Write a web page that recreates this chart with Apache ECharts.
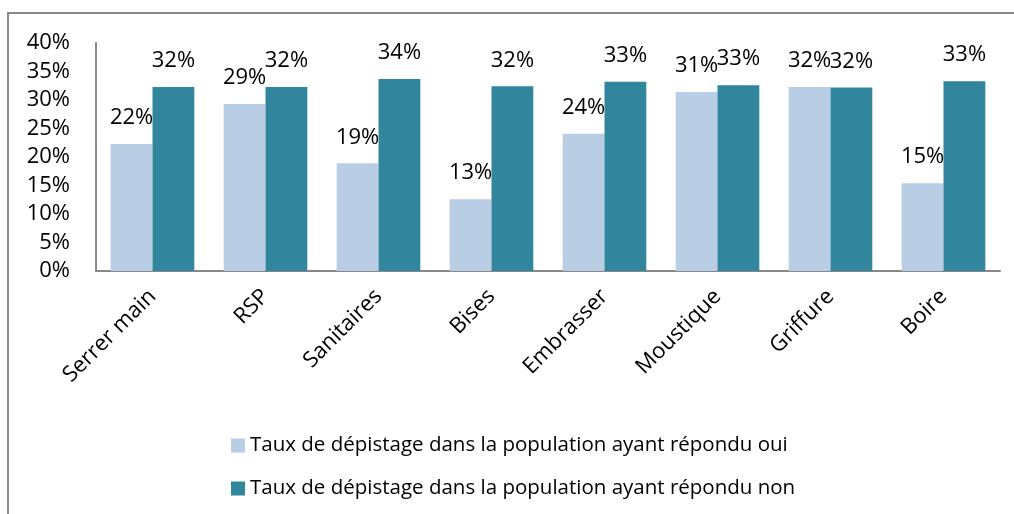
<!DOCTYPE html>
<html>
<head>
<meta charset="utf-8">
<script src="https://cdn.jsdelivr.net/npm/echarts@6/dist/echarts.min.js"></script>
<style>
  html, body { margin: 0; padding: 0; background: #fff; }
  #container { width: 1014px; height: 514px; }
</style>
</head>
<body>
<div id="container"></div>
<script>
    var categories = ["Serrer main", "RSP", "Sanitaires", "Bises", "Embrasser", "Moustique", "Griffure", "Boire"];
    var seriesNames = [
        "Taux de dépistage dans la population ayant répondu oui",
        "Taux de dépistage dans la population ayant répondu non"
    ];
    var ouiValues = [22.3, 29.3, 18.9, 12.6, 24.1, 31.4, 32.3, 15.4];
    var nonValues = [32.3, 32.3, 33.7, 32.4, 33.2, 32.6, 32.2, 33.3];

    var fontFamily = "'Open Sans', sans-serif";
    var labelStyle = {
        show: true,
        position: 'top',
        distance: 15,
        color: '#000',
        fontSize: 22,
        fontFamily: fontFamily,
        formatter: function(p) { return Math.round(p.value) + '%'; }
    };

    var myChart = echarts.init(document.getElementById('container'));
    myChart.setOption({
        animation: false,
        graphic: [{
            type: 'rect',
            shape: { x: 8, y: 13, width: 1100, height: 600 },
            style: { fill: 'none', stroke: '#888', lineWidth: 2 },
            silent: true
        }],
        grid: { left: 96, right: 14, top: 43, bottom: 243 },
        legend: {
            orient: 'vertical',
            left: 226,
            top: 430,
            icon: 'rect',
            itemWidth: 14,
            itemHeight: 14,
            itemGap: 22,
            textStyle: { fontSize: 20.5, fontFamily: fontFamily, color: '#000' },
            data: seriesNames
        },
        xAxis: {
            type: 'category',
            data: categories,
            axisTick: { show: false },
            axisLine: { lineStyle: { color: '#888', width: 2 } },
            axisLabel: {
                rotate: 45,
                interval: 0,
                margin: 22,
                color: '#000',
                fontSize: 22,
                fontFamily: fontFamily
            }
        },
        yAxis: {
            type: 'value',
            min: 0,
            max: 40,
            interval: 5,
            splitLine: { show: false },
            axisTick: { show: false },
            axisLine: { show: true, lineStyle: { color: '#888', width: 2 } },
            axisLabel: {
                formatter: '{value}%',
                margin: 26,
                color: '#000',
                fontSize: 22,
                fontFamily: fontFamily
            }
        },
        series: [
            {
                name: seriesNames[0],
                type: 'bar',
                data: ouiValues,
                barGap: '0%',
                barCategoryGap: '26%',
                itemStyle: { color: '#B9CDE5' },
                label: labelStyle
            },
            {
                name: seriesNames[1],
                type: 'bar',
                data: nonValues,
                itemStyle: { color: '#31859C' },
                label: labelStyle
            }
        ]
    });
</script>
</body>
</html>
